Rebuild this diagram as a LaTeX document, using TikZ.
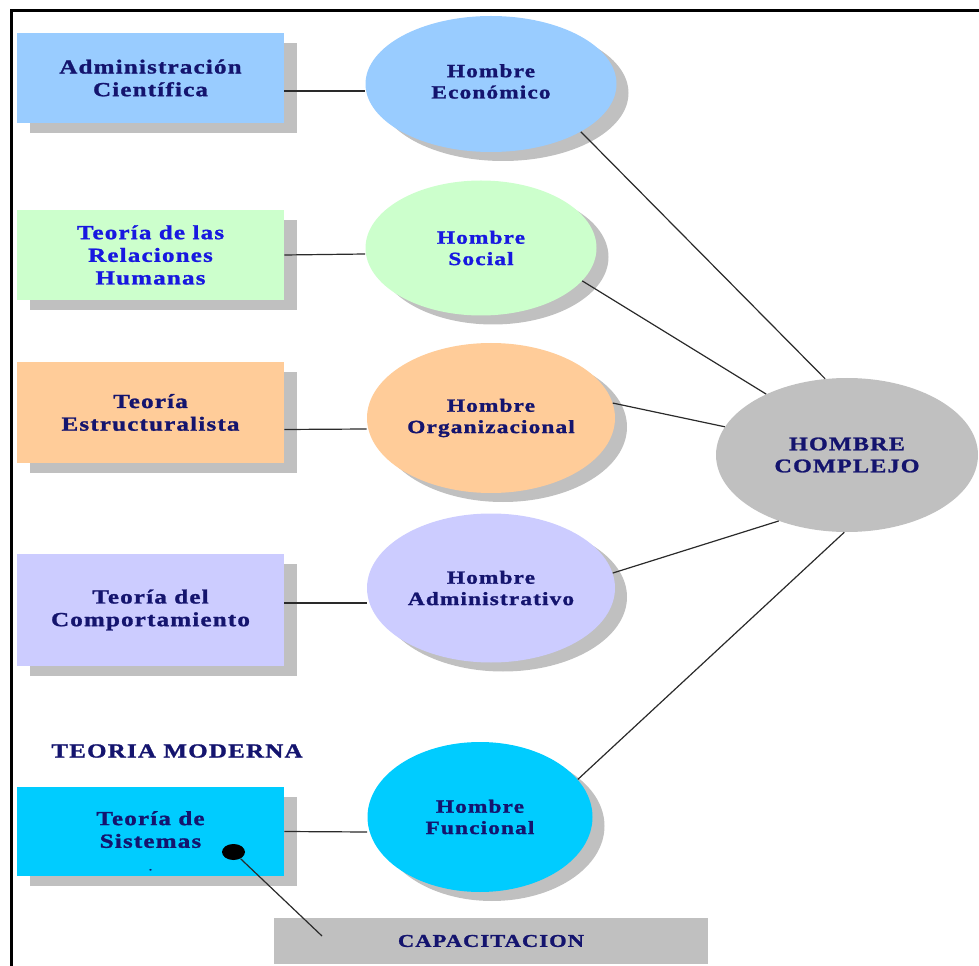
\documentclass[tikz,border=0pt]{standalone}
\usepackage{fontspec}
\setmainfont{Liberation Serif}[FakeStretch=1.25,LetterSpace=6,FakeBold=1.3]
\usetikzlibrary{shapes.geometric,shadows}

\definecolor{cblue}{HTML}{99CCFF}
\definecolor{cgreen}{HTML}{CCFFCC}
\definecolor{corange}{HTML}{FFCC99}
\definecolor{clav}{HTML}{CCCCFF}
\definecolor{ccyan}{HTML}{00CCFF}
\definecolor{cgray}{HTML}{C0C0C0}
\definecolor{navytext}{HTML}{14146E}
\definecolor{bluetext}{HTML}{1818E0}
\definecolor{linecol}{HTML}{2A2A2A}

\begin{document}
\begin{tikzpicture}[x=0.75pt,y=-0.75pt,
  every node/.style={font=\fontsize{15pt}{17pt}\selectfont\bfseries,
    align=center, text=navytext, inner sep=0pt},
  theory/.style={rectangle, minimum width=200.25pt,
    drop shadow={shadow xshift=9.75pt,shadow yshift=-7.5pt,fill=cgray,opacity=1}},
  man/.style={ellipse, inner xsep=-20pt, inner ysep=0pt,
    font=\fontsize{14pt}{16pt}\selectfont\bfseries,
    drop shadow={shadow xshift=9pt,shadow yshift=-6.75pt,fill=cgray,opacity=1}},
  link/.style={draw=linecol, line width=0.9pt}]

\useasboundingbox (0,0) rectangle (979,966);

% outer frame (top and left edges)
\draw[line width=1.8pt] (11.5,966) -- (11.5,10.5) -- (979,10.5);

% theories
\node[theory, fill=cblue,   minimum height=67.5pt]  (ac) at (150.5,78)    {Administración\\Científica};
\node[theory, fill=cgreen,  minimum height=67.5pt, text=bluetext] (rh) at (150.5,255) {Teoría de las\\Relaciones\\Humanas};
\node[theory, fill=corange, minimum height=75.75pt] (te) at (150.5,412.5) {Teoría\\Estructuralista};
\node[theory, fill=clav,    minimum height=84pt]    (tc) at (150.5,610)   {Teoría del\\Comportamiento};
% empty first line pushes the text block a little lower in the box
\node[theory, fill=ccyan,   minimum height=66.75pt] (ts) at (150.5,831.5) {\mbox{}\\[7.5pt]Teoría de\\Sistemas\\{\fontsize{7pt}{16.5pt}\selectfont .}};

\node (mod) at (177,751) {TEORIA MODERNA};

% models of man
\node[man, fill=cblue,   minimum width=188.25pt, minimum height=102pt]   (econ)  at (491,84)  {Hombre\\Económico\\[-12pt]\mbox{}};
\node[man, fill=cgreen,  minimum width=173.25pt, minimum height=101.25pt, text=bluetext] (soc) at (481,248) {Hombre\\Social};
\node[man, fill=corange, minimum width=186pt,    minimum height=112.5pt]  (org) at (491,418) {Hombre\\Organizacional};
\node[man, fill=clav,    minimum width=186pt,    minimum height=111.75pt] (adm) at (491,588) {Hombre\\Administrativo};
\node[man, fill=ccyan,   minimum width=168.75pt, minimum height=112.5pt]  (fun) at (480,817) {Hombre\\Funcional};

\node[ellipse, fill=cgray, minimum width=196.5pt, minimum height=115.5pt,
  font=\fontsize{14.5pt}{16.5pt}\selectfont\bfseries] (comp) at (847,455) {HOMBRE\\COMPLEJO};

% training box and its marker
\node[rectangle, fill=cgray, minimum width=325.5pt, minimum height=34.5pt,
  font=\fontsize{13.5pt}{16pt}\selectfont\bfseries] (cap) at (491,941) {CAPACITACION};
\node[ellipse, fill=black, minimum width=17.25pt, minimum height=12pt] (dot) at (233.5,852) {};
\coordinate (capend) at (322,936);

% theory -> model links
\draw[link] ([yshift=-9.75pt]ac.east) -- ([yshift=-5.25pt]econ.west);
\draw[link] (rh.east) -- ([yshift=-4.5pt]soc.west);
\draw[link] ([yshift=-12.75pt]te.east) -- ([yshift=-8.25pt]org.west);
\draw[link] ([yshift=5.25pt]tc.east) -- ([yshift=-11.25pt]adm.west);
\draw[link] (ts.east) -- ([yshift=-11.25pt]fun.west);

% model -> complex man links
\draw[link] (econ.332.4) -- (comp.106.6);
\draw[link] (soc.342.6)  -- (comp.143.6);
\draw[link] (org.7)      -- (comp.167.3);
\draw[link] (adm.7.7)    -- (comp.224);
\draw[link] (fun.21.7)   -- (comp.268.5);

\draw[link] (dot) -- (capend);
\end{tikzpicture}
\end{document}
